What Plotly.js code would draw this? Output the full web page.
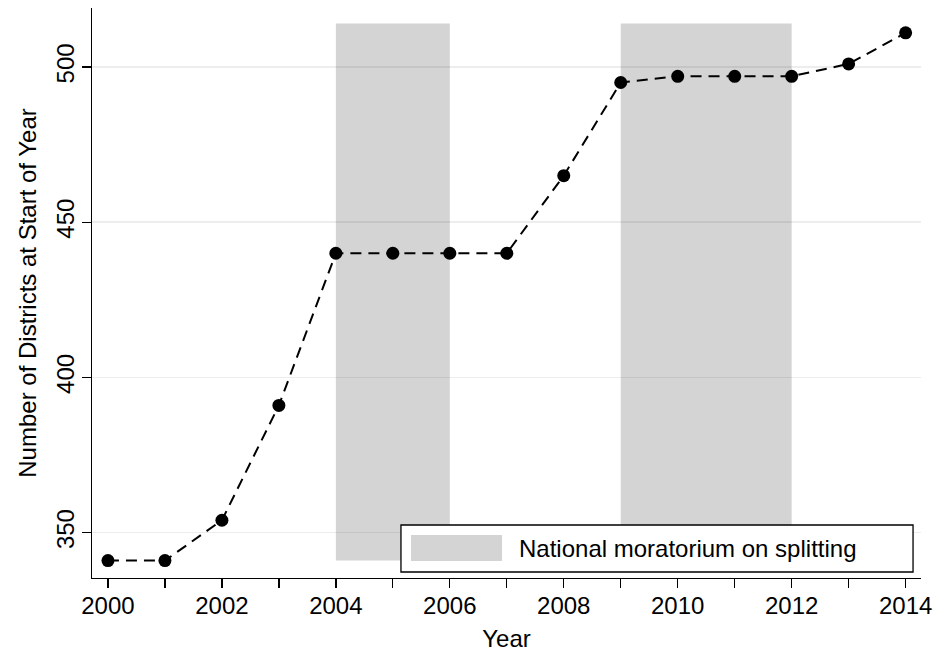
<!DOCTYPE html>
<html>
<head>
<meta charset="utf-8">
<script src="https://cdn.plot.ly/plotly-3.0.1.min.js"></script>
<style>
body { margin: 0; background: #fff; }
#chart { width: 938px; height: 652px; }
</style>
</head>
<body>
<div id="chart"></div>
<script>
// districts at the start of each year
const years = [2000, 2001, 2002, 2003, 2004, 2005, 2006, 2007, 2008, 2009, 2010, 2011, 2012, 2013, 2014];
const districts = [341, 341, 354, 391, 440, 440, 440, 440, 465, 495, 497, 497, 497, 501, 511];

// moratorium periods (shaded)
const moratoriumStart = [2004, 2009];
const moratoriumEnd = [2006, 2012];
const shadeLow = 341;
const shadeHigh = 514;
const moratoriumLabel = "National moratorium on splitting";

const yTicks = [350, 400, 450, 500];
const xTickLabels = years.map(y => (y % 2 === 0 ? String(y) : ""));

const font = "Liberation Sans, Arial, sans-serif";
const shadeColor = "#d4d4d4";

const shapes = moratoriumStart.map((s, i) => ({
    type: "rect",
    xref: "x", yref: "y",
    x0: s, x1: moratoriumEnd[i],
    y0: shadeLow, y1: shadeHigh,
    fillcolor: shadeColor,
    line: {width: 0},
    layer: "below"
}));

// hand-made legend box, like the Stata one inside the plot
shapes.push({
    type: "rect", xref: "paper", yref: "paper",
    x0: 0.3727, x1: 0.9904, y0: 0.0105, y1: 0.093,
    fillcolor: "#ffffff",
    line: {color: "#000000", width: 1.3},
    layer: "above"
});
shapes.push({
    type: "rect", xref: "paper", yref: "paper",
    x0: 0.3848, x1: 0.4946, y0: 0.0298, y1: 0.0754,
    fillcolor: shadeColor,
    line: {width: 0},
    layer: "above"
});

const data = [{
    type: "scatter",
    mode: "lines+markers",
    x: years,
    y: districts,
    line: {color: "#000000", width: 2, dash: "11px,7px"},
    marker: {color: "#000000", size: 13},
    showlegend: false,
    hoverinfo: "x+y"
}];

const layout = {
    width: 938,
    height: 652,
    margin: {l: 92, r: 17, t: 8, b: 74},
    paper_bgcolor: "#ffffff",
    plot_bgcolor: "#ffffff",
    font: {family: font, size: 24, color: "#000000"},
    showlegend: false,
    xaxis: {
        range: [1999.72, 2014.27],
        tickvals: years,
        ticktext: xTickLabels,
        ticks: "outside",
        ticklen: 9,
        tickwidth: 1.3,
        tickcolor: "#000000",
        ticklabelstandoff: -3,
        showline: true,
        linecolor: "#000000",
        linewidth: 1.3,
        showgrid: false,
        zeroline: false,
        title: {text: "Year", font: {size: 24}, standoff: 12}
    },
    yaxis: {
        range: [335.4, 519],
        tickvals: yTicks,
        tickangle: -90,
        ticks: "outside",
        ticklen: 9,
        tickwidth: 1.3,
        tickcolor: "#000000",
        ticklabelstandoff: -2,
        showline: true,
        linecolor: "#000000",
        linewidth: 1.3,
        showgrid: true,
        gridcolor: "rgba(0,0,0,0.07)",
        gridwidth: 1.5,
        zeroline: false,
        title: {text: "Number of Districts at Start of Year", font: {size: 24}, standoff: 8}
    },
    shapes: shapes,
    annotations: [{
        xref: "paper", yref: "paper",
        x: 0.5127, y: 0.0526,
        xanchor: "left", yanchor: "middle",
        text: moratoriumLabel,
        showarrow: false,
        font: {size: 24, color: "#000000"}
    }]
};

Plotly.newPlot("chart", data, layout, {displayModeBar: false, staticPlot: true});
</script>
</body>
</html>
